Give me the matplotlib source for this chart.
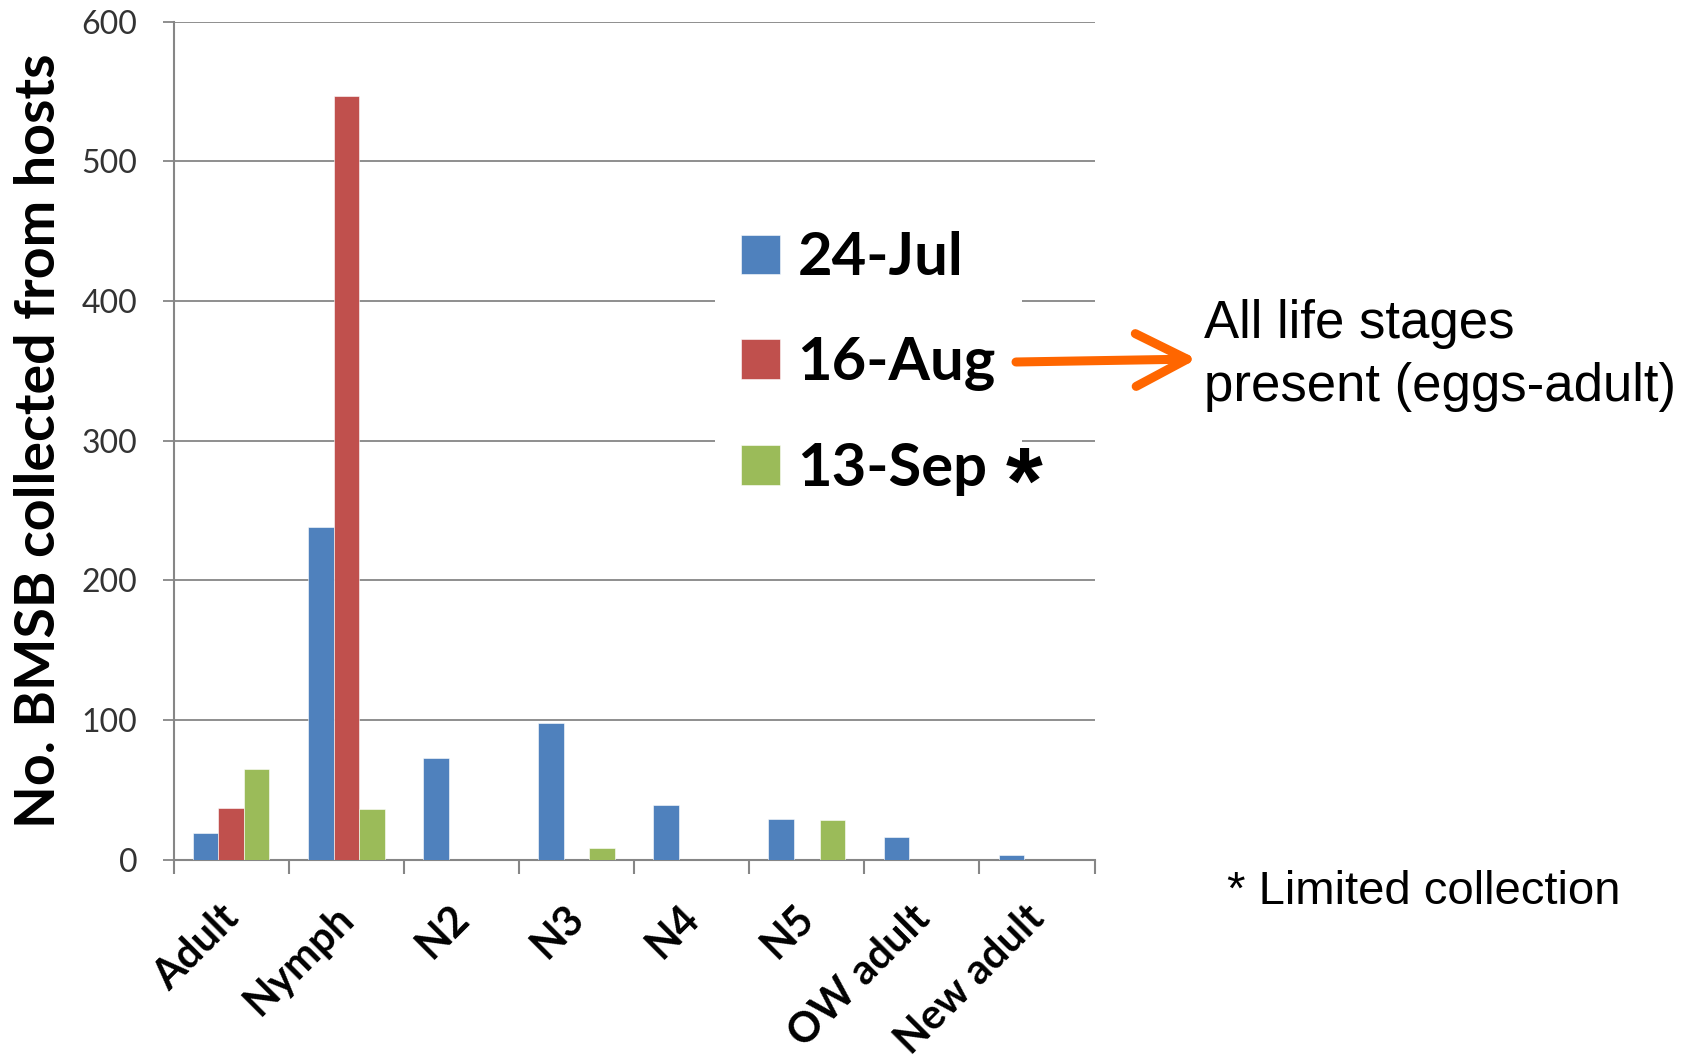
import numpy as np
import matplotlib
matplotlib.use("Agg")
import matplotlib.pyplot as plt
import matplotlib.transforms as mtransforms
from matplotlib.patches import ArrowStyle

plt.rcParams['font.family'] = ['Lato', 'DejaVu Sans']

stages = ['Adult', 'Nymph', 'N2', 'N3', 'N4', 'N5', 'OW adult', 'New adult']
dates = ['24-Jul', '16-Aug', '13-Sep']
jul24 = [19, 238, 73, 98, 39, 29, 16, 3]
aug16 = [37, 547, 0, 0, 0, 0, 0, 0]
sep13 = [65, 36, 0, 8, 0, 28, 0, 0]
colors = ['#4F81BD', '#C0504D', '#9BBB59']
grid_c = '#868686'

W, H = 1691, 1060
fig = plt.figure(figsize=(W / 100, H / 100), dpi=100)
ax = fig.add_axes([173.6 / W, 1 - 859.5 / H, 921 / W, 837.9 / H])

x = np.arange(len(stages))
bw = 0.222
bars = []
for i, (vals, c) in enumerate(zip([jul24, aug16, sep13], colors)):
    b = ax.bar(x + (i - 1) * bw, vals, bw, color=c, label=dates[i],
               edgecolor='white', linewidth=0.4, zorder=3)
    bars.append(b)

ax.set_xlim(-0.5, len(stages) - 0.5)
ax.set_ylim(0, 600)
ax.set_yticks(range(0, 601, 100))
ax.yaxis.grid(True, color=grid_c, linewidth=1.3, zorder=0)
ax.set_axisbelow(True)

for s in ['top', 'right']:
    ax.spines[s].set_visible(False)
for s in ['left', 'bottom']:
    ax.spines[s].set_color(grid_c)
    ax.spines[s].set_linewidth(1.5)

# category boundaries carry the tick marks, centres carry the labels
ax.set_xticks(np.arange(-0.5, len(stages), 1.0))
ax.set_xticklabels([])
ax.set_xticks(x, minor=True)
ax.set_xticklabels(stages, minor=True, rotation=45, ha='right',
                   rotation_mode='anchor', fontsize=30, fontweight='bold')
ax.tick_params(axis='x', which='major', length=10, width=1.5, color=grid_c, direction='out')
ax.tick_params(axis='x', which='minor', length=0, pad=28)
ax.tick_params(axis='y', length=8, width=1.3, color=grid_c, pad=18,
               labelsize=23, labelcolor='#333333')

shift = mtransforms.ScaledTranslation(-12 / 100, 0, fig.dpi_scale_trans)
for lab in ax.get_xticklabels(minor=True):
    lab.set_transform(lab.get_transform() + shift)

ax.set_ylabel('No. BMSB collected from hosts', fontsize=40, fontweight='bold',
              va='baseline')
ax.yaxis.set_label_coords((55 - 173.6) / 921, 0.5)

leg = ax.legend(handles=bars, labels=dates, loc='upper left',
                bbox_to_anchor=(715 / W, 1 - 205 / H), bbox_transform=fig.transFigure,
                borderaxespad=0, frameon=True, fancybox=False,
                prop={'size': 43, 'weight': 'bold'},
                handlelength=0.64, handleheight=0.64, handletextpad=0.3,
                labelspacing=0.85, borderpad=0.44)
leg.get_frame().set_facecolor('white')
leg.get_frame().set_edgecolor('none')
leg.get_frame().set_alpha(1)

fig.text(1024 / W, 1 - 513 / H, '*', fontsize=68, fontweight='bold',
         family=['Liberation Sans', 'DejaVu Sans'], ha='center', va='baseline')

arrow = ArrowStyle('->', head_length=37, head_width=19)
ax.annotate('', xy=(1197 / W, 1 - 359 / H), xycoords='figure fraction',
            xytext=(1016 / W, 1 - 362 / H), textcoords='figure fraction',
            arrowprops=dict(arrowstyle=arrow, mutation_scale=1, color='#FF6600',
                            lw=6.5, capstyle='round', joinstyle='round',
                            shrinkA=0, shrinkB=0),
            annotation_clip=False, zorder=10)

fig.text(1204 / W, 1 - 401 / H, 'All life stages\npresent (eggs-adult)',
         fontsize=38, family=['Liberation Sans', 'DejaVu Sans'],
         ha='left', va='baseline', linespacing=1.33)
fig.text(1227 / W, 1 - 904 / H, '* Limited collection',
         fontsize=34, family=['Liberation Sans', 'DejaVu Sans'],
         ha='left', va='baseline')

fig.savefig('out.png', dpi=100)
